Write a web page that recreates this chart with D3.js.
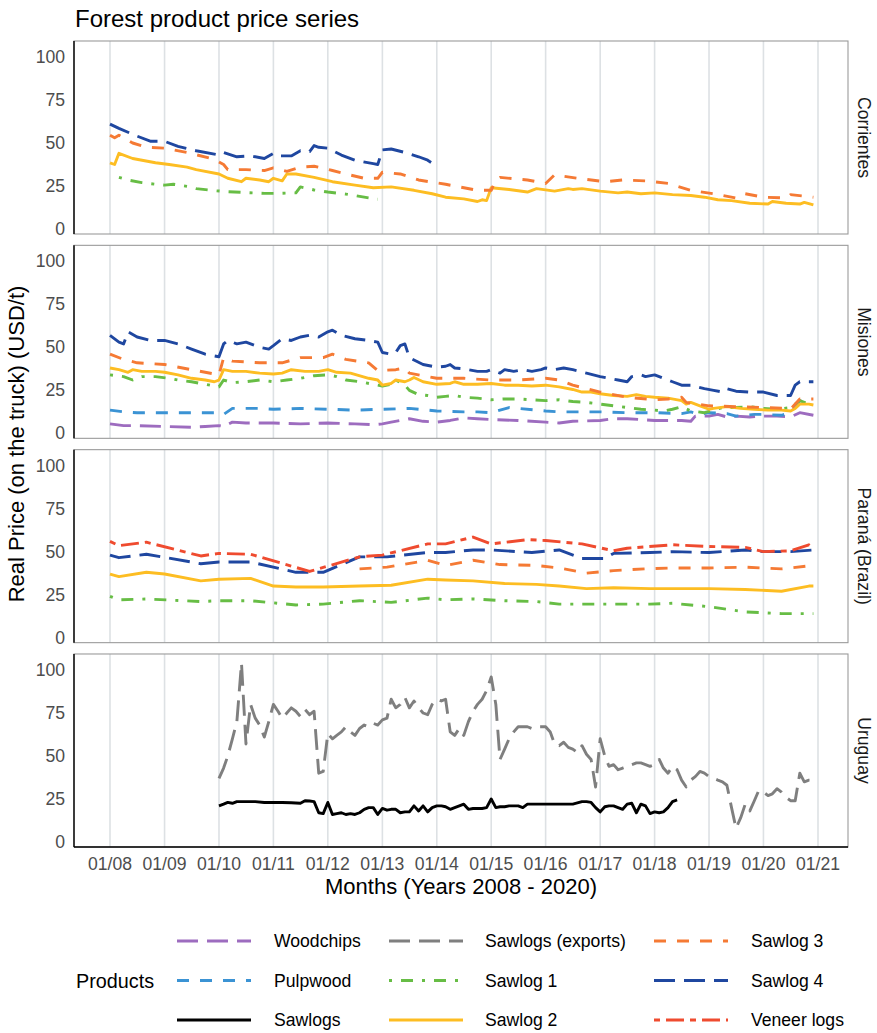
<!DOCTYPE html>
<html><head><meta charset="utf-8">
<script src="https://cdn.jsdelivr.net/npm/d3@7"></script>
<style>
body{margin:0;background:#fff}
text{font-family:"Liberation Sans",Arial,Helvetica,sans-serif}
</style>
</head><body>
<svg id="chart" width="877" height="1033"></svg>
<script>
// ---------------- DATA ----------------
const panels = ["Corrientes", "Misiones", "Paraná (Brazil)", "Uruguay"];
const products = ["Woodchips", "Pulpwood", "Sawlogs", "Sawlogs (exports)", "Sawlog 1", "Sawlog 2", "Sawlog 3", "Sawlog 4", "Veneer logs"];
const yTicks = [0, 25, 50, 75, 100];
const xTickYears = [2008, 2009, 2010, 2011, 2012, 2013, 2014, 2015, 2016, 2017, 2018, 2019, 2020, 2021];
const titleText = "Forest product price series";
const xTitle = "Months (Years 2008 - 2020)";
const yTitle = "Real Price (on the truck) (USD/t)";
const legendTitle = "Products";

// each point: [months since Jan 2008, real price USD/t]
const corrientesSawlog1 = [[2,30],[4,28.5],[7,27],[10,26],[12,25.5],[14,26],[17,24.8],[19,23.5],[23,22.3],[26,21.7],[30,21.2],[34,20.7],[37,20.7],[40,21],[41,21],[42,24.5],[45,22.7],[48,21.5],[52,20.3],[56,18.5],[59,17.3]];
const corrientesSawlog2 = [[0,38.5],[1,37.5],[2,44],[5,41],[10,38.5],[13,37.5],[17,36],[19,34.5],[24,32],[26,29.5],[29,27.5],[30,29.5],[33,28.5],[35,27.5],[36,29.5],[38,28],[39,32],[41,32],[45,30],[49,27.5],[54,25.5],[58,24],[62,24.5],[67,22.5],[71,20.5],[74,18.5],[78,17.5],[81,16],[82,17],[83,16.5],[84,24],[88,23],[92,21.5],[94,23.5],[98,22],[101,23.5],[102,23],[104,23.5],[108,22],[112,21],[114,21.5],[117,20.5],[120,21],[124,20],[128,19.5],[131,18.5],[134,17],[137,16.5],[141,15],[145,14.5],[146,16],[149,15],[152,14.5],[153,15.5],[155,14]];
const corrientesSawlog3 = [[0,54.5],[1,53],[2,54.5],[5,50],[8,47.5],[12,47],[17,44.5],[23,40.5],[25,37.5],[26,34.5],[30,34.5],[34,34],[36,35.5],[39,33.5],[42,36],[45,36.5],[49,34],[52,32],[56,29.5],[59,29.5],[60,33],[64,32],[68,28.5],[74,26],[81,22.5],[84,22.5],[85,28.5],[86,30],[92,28.5],[96,26.5],[98,31.5],[103,29.5],[109,27.5],[113,28.5],[118,28],[123,26.5],[128,22.5],[133,20.5],[138,18],[140,20.5],[144,18.5],[149,18],[150,20],[155,18.5]];
const corrientesSawlog4 = [[0,61],[2,58.5],[6,54],[9,51],[12,51],[15,48],[19,45.5],[24,43],[25,44.5],[28,42],[31,42.5],[34,41],[36,44],[37,42.5],[40,42.5],[42,45.5],[44,45],[45,48.5],[46,47.5],[48,47],[51,43],[54,40],[58,38],[59,37.5],[60,46],[62,46.5],[65,44.5],[68,42],[70,40],[72,36.5]];

const misionesWoodchips = [[0,5.5],[3,4.5],[6,4.5],[12,4],[18,3.5],[21,4],[24,4.5],[25,4],[27,6.5],[30,6],[36,6],[42,5.5],[48,6],[54,5.5],[58,5],[60,5.5],[62,6.5],[66,8.5],[69,7],[72,6.5],[75,7.5],[78,9],[81,8.5],[84,8],[90,7.5],[96,6.5],[99,6],[102,7],[108,7.5],[111,8.5],[114,8.5],[117,8],[120,7.5],[126,7.5],[128,7],[129,10],[132,10],[134,11],[136,9.5],[138,10],[141,9.5],[144,10],[147,10],[150,9.5],[152,12],[155,10.5]];
const misionesPulpwood = [[0,13.5],[3,12.5],[6,12],[12,12],[18,12],[24,12],[25,11],[27,14.5],[33,14.5],[36,14],[42,14.5],[48,14],[54,13.5],[60,14],[66,14.5],[72,13],[78,12.5],[81,12.5],[84,12],[86,13.5],[88,15],[90,14.5],[96,13],[99,12.5],[102,12.5],[108,12.5],[114,12],[120,12],[126,11.5],[128,12.5],[130,11],[132,12],[136,11.5],[138,10],[142,11],[144,11],[148,10.5],[150,12],[152,19],[153,18]];
const misionesSawlog1 = [[0,34],[3,33],[5,31],[7,33],[10,33],[13,32],[15,31],[18,30],[21,28.5],[24,27],[25,31],[27,29.5],[30,30],[33,31],[36,30],[39,31],[42,32],[45,33.5],[48,34],[50,33],[52,31],[55,30],[58,28.5],[60,27.5],[62,28.5],[63,31],[65,28],[66,25],[68,22.5],[70,22],[72,21],[74,21.5],[76,22],[78,21],[81,20.5],[84,19.5],[87,20],[90,20],[93,19.5],[96,19],[99,19.5],[102,18.5],[105,18],[108,17],[111,16],[114,15],[117,14],[120,13.5],[122,13],[124,14],[126,15.5],[128,13],[131,12],[133,13.5],[135,15],[138,15],[141,15.5],[144,14.5],[147,14],[150,15],[152,19],[154,17]];
const misionesSawlog2 = [[0,38],[2,37],[4,35.5],[5,37],[7,36],[10,36],[12,35.5],[15,34],[18,32],[21,31],[23,30],[24,31],[25,37],[27,36],[30,36],[33,35],[36,34.5],[38,35],[40,37],[43,36],[46,36],[48,37],[50,35.5],[53,35],[57,32],[59,31],[60,28],[62,29],[63,31],[65,30],[66,31],[67,32.5],[69,30],[72,28.5],[75,29],[76,30],[78,28.5],[81,28.5],[84,29],[87,28],[90,28],[93,27.5],[96,28],[99,27],[102,25.5],[104,24],[106,24],[108,23],[111,22],[114,21.5],[116,22.5],[118,21.5],[120,21],[123,20.5],[126,19],[127,17],[128,18],[130,16],[132,14],[133,14.5],[136,15.5],[139,14.5],[142,14],[145,13.5],[148,13.5],[150,13],[151,14.5],[152,17],[154,17],[155,16.5]];
const misionesSawlog3 = [[0,46],[3,43],[6,41],[12,40],[18,37],[23,34.5],[24,34],[25,44],[27,42],[33,41],[38,41],[42,44],[47,44],[49,46],[52,43],[57,41],[59,36.5],[63,37],[65,38],[66,35],[72,32],[78,32],[84,31],[90,31],[96,32],[99,31],[102,28],[108,24],[114,21],[120,19.5],[123,20],[126,21],[127,18],[132,16],[138,15.5],[144,15],[149,14.5],[150,14],[152,20],[155,20]];
const misionesSawlog4 = [[0,57],[2,53],[3,52],[4,59],[6,56],[9,54],[12,54],[15,52],[18,49],[21,46],[23,45],[24,44.5],[25,52],[26,54],[28,52],[30,53],[33,50],[35,49],[36,51],[38,55],[40,54],[42,56],[44,57],[46,56],[48,59],[49,60],[51,57],[54,55],[57,54],[59,53],[60,47],[62,46],[63,47],[64,51],[65,52],[66,44],[69,40],[72,38.5],[74,39],[75,40],[76,38],[78,37.5],[81,36],[83,36],[84,37],[86,35],[87,37],[89,36],[91,37],[93,36],[95,37],[96,38],[98,37],[100,38],[102,37],[105,35],[108,33],[110,32],[112,31],[114,30],[115,33],[117,34],[118,33],[120,34],[122,32],[124,30],[126,28],[128,28],[131,26],[133,25],[135,24],[136,26],[138,24.5],[141,24],[144,24],[147,22],[150,22],[151,28],[152,30],[155,30]];

const paranaSawlog1 = [[0,24],[2,22],[8,22.5],[20,21],[24,21.5],[31,21.5],[41,19],[47,19.5],[55,21.5],[62,20.5],[70,23],[74,22],[80,22.5],[87,21.5],[94,21],[99,19.5],[111,19.5],[119,19.5],[124,20],[132,18],[140,15],[148,14],[155,14]];
const paranaSawlog2 = [[0,37],[2,35.5],[8,38],[12,37],[20,33],[24,34],[31,34.5],[36,30],[41,29.5],[47,29.5],[55,30],[62,30.5],[70,34],[74,33.5],[80,33],[87,31.5],[94,31],[99,30],[105,28.5],[111,29],[119,28.5],[124,28.5],[132,28.5],[140,28],[148,27],[154,30],[155,30]];
const paranaSawlog3 = [[55,40],[61,41],[70,45],[74,42],[80,45],[86,42.5],[94,42],[99,40.5],[105,37.5],[111,39],[118,40],[124,40.5],[132,40.5],[140,41],[148,40],[155,42]];
const paranaSawlog4 = [[0,48],[2,46.5],[8,48.5],[20,43],[24,44],[31,44],[41,38],[47,38],[55,47],[61,47],[70,49.5],[74,49.5],[80,51],[84,51],[93,49.5],[99,51],[104,46],[109,46],[111,49],[119,49.5],[124,50],[132,49.5],[140,51],[144,50],[150,50],[155,51]];
const paranaVeneer = [[0,56],[2,53.5],[8,55.5],[20,47.5],[24,49],[31,48.5],[44,38.5],[55,47],[60,48],[70,54.5],[74,54.5],[80,58.5],[84,54.5],[92,57],[96,56.5],[104,54.5],[111,50.5],[114,52],[124,54],[132,53],[140,52.5],[144,50],[150,50.5],[154,54],[155,52]];

const uruguaySawlogs = [[24,21],[25,22],[26,23],[27,22.5],[28,23.5],[29,23.5],[30,23.5],[32,23.5],[34,23],[36,23],[38,23],[40,22.8],[42,22.5],[43,24],[44,23.8],[45,23.5],[46,17],[47,16.5],[48,23],[49,16],[50,16.5],[51,17],[52,16],[53,16.5],[54,16],[55,17],[56,19],[57,20],[58,20],[59,16],[60,19.5],[61,18.5],[62,19],[63,19],[64,17],[65,17.5],[66,17.5],[67,21],[68,18],[69,21],[70,17.5],[71,20],[72,21],[73,21],[74,20.5],[75,19],[76,20],[77,21],[78,22],[79,19],[80,19.5],[81,19.5],[82,19.5],[83,20],[84,25],[85,20],[86,20.5],[87,20.5],[88,21],[89,21],[90,21],[91,20],[92,22],[94,22],[96,22],[98,22],[100,22],[102,22],[104,23.5],[105,23.5],[106,23],[107,20],[108,17.5],[109,20.5],[110,21],[111,21],[112,20],[113,19],[114,22],[115,22.5],[116,17],[117,22],[118,21],[119,16.5],[120,17.5],[121,17],[122,17.5],[123,20],[124,23.5],[125,24.5]];
const uruguayExports = [[24,37],[25,43],[26,50],[27,60],[28,70],[29,104],[30,57],[31,80],[32,72],[33,68],[34,61],[35,70],[36,80],[37,76],[38,72],[39,75],[40,78],[41,76],[42,73],[43,77],[44,74],[45,76],[46,40],[47,41],[48,63],[49,60],[50,62],[51,64],[52,67],[53,64],[54,62],[55,66],[56,68],[57,67],[58,69],[59,68],[60,71],[61,72],[62,83],[63,78],[64,80],[65,84],[66,78],[67,82],[68,78],[69,75],[70,74],[71,80],[72,83],[73,82],[74,83],[75,64],[76,62],[77,66],[78,62],[79,70],[80,76],[81,80],[82,83],[83,88],[84,96],[85,80],[86,48],[87,54],[88,60],[89,64],[90,67],[91,67],[92,67],[93,66],[94,67],[95,67],[96,67],[97,64],[98,57],[99,56],[100,58],[101,55],[102,54],[103,52],[104,56],[105,51],[106,48],[107,32],[108,60],[109,50],[110,44],[111,45],[112,42],[113,43],[114,44],[115,45],[116,46],[117,46],[118,45],[119,44],[120,45],[121,48],[122,43],[123,40],[124,44],[125,42],[126,36],[127,32],[128,36],[129,38],[130,41],[131,40],[132,38],[133,37],[134,36],[135,35],[136,33],[137,20],[138,8],[139,14],[140,22],[141,18],[142,24],[143,30],[144,29],[145,27],[146,28],[147,31],[148,29],[149,26],[150,24],[151,24],[152,40],[153,35],[154,36],[155,36]];

// table built from the arrays above
const seriesTable = [
  {panel: "Corrientes", product: "Sawlog 1", values: corrientesSawlog1},
  {panel: "Corrientes", product: "Sawlog 2", values: corrientesSawlog2},
  {panel: "Corrientes", product: "Sawlog 3", values: corrientesSawlog3},
  {panel: "Corrientes", product: "Sawlog 4", values: corrientesSawlog4},
  {panel: "Misiones", product: "Woodchips", values: misionesWoodchips},
  {panel: "Misiones", product: "Pulpwood", values: misionesPulpwood},
  {panel: "Misiones", product: "Sawlog 1", values: misionesSawlog1},
  {panel: "Misiones", product: "Sawlog 2", values: misionesSawlog2},
  {panel: "Misiones", product: "Sawlog 3", values: misionesSawlog3},
  {panel: "Misiones", product: "Sawlog 4", values: misionesSawlog4},
  {panel: "Paraná (Brazil)", product: "Sawlog 1", values: paranaSawlog1},
  {panel: "Paraná (Brazil)", product: "Sawlog 2", values: paranaSawlog2},
  {panel: "Paraná (Brazil)", product: "Sawlog 3", values: paranaSawlog3},
  {panel: "Paraná (Brazil)", product: "Sawlog 4", values: paranaSawlog4},
  {panel: "Paraná (Brazil)", product: "Veneer logs", values: paranaVeneer},
  {panel: "Uruguay", product: "Sawlogs", values: uruguaySawlogs},
  {panel: "Uruguay", product: "Sawlogs (exports)", values: uruguayExports}
];

// ---------------- STYLES ----------------
const colorOf = {
  "Woodchips": "#9d6cbf", "Pulpwood": "#3b93d4", "Sawlogs": "#000000",
  "Sawlogs (exports)": "#7f7f7f", "Sawlog 1": "#67bd45", "Sawlog 2": "#fdbd22",
  "Sawlog 3": "#f57a34", "Sawlog 4": "#1f47a0", "Veneer logs": "#ef4b2f"
};
const LW = 2.9;
const dashOf = {
  "Woodchips": "21 9", "Pulpwood": "12 11", "Sawlogs": null,
  "Sawlogs (exports)": "21 9", "Sawlog 1": "3 9 12 9", "Sawlog 2": null,
  "Sawlog 3": "12 11", "Sawlog 4": "21 9", "Veneer logs": "6 6 18 6"
};

// ---------------- LAYOUT ----------------
const svg = d3.select("#chart");
const left = 74, right = 848;
const panelTop0 = 41, panelPitch = 204.33, panelH = 193;

const x = d3.scaleTime()
  .domain([new Date(2008, 0, 1), new Date(2021, 0, 1)])
  .range([110, 818]);
const monthDate = m => new Date(2008, m, 1);
const fmt = d3.timeFormat("%m/%y");
const tickDates = xTickYears.map(y => new Date(y, 0, 1));

svg.append("rect").attr("width", 877).attr("height", 1033).attr("fill", "#fff");

// title
svg.append("text").attr("x", 75).attr("y", 27)
  .attr("font-size", 24).attr("fill", "#000").text(titleText);

panels.forEach((p, i) => {
  const top = panelTop0 + i * panelPitch;
  const y = d3.scaleLinear().domain([-2.9, 109.3]).range([top + panelH, top]);
  const g = svg.append("g");

  // vertical gridlines
  g.selectAll("line.grid").data(tickDates).enter().append("line")
    .attr("x1", d => x(d)).attr("x2", d => x(d))
    .attr("y1", top).attr("y2", top + panelH)
    .attr("stroke", "#dde1e4").attr("stroke-width", 1.6);

  // lines
  const line = d3.line().x(d => x(monthDate(d[0]))).y(d => y(d[1]));
  const rows = seriesTable.filter(s => s.panel === p)
    .sort((a, b) => products.indexOf(a.product) - products.indexOf(b.product));
  rows.forEach(s => {
    g.append("path").datum(s.values)
      .attr("d", line)
      .attr("fill", "none")
      .attr("stroke", colorOf[s.product])
      .attr("stroke-width", LW)
      .attr("stroke-linejoin", "round")
      .attr("stroke-linecap", "butt")
      .attr("stroke-dasharray", dashOf[s.product]);
  });

  // panel border
  g.append("rect").attr("x", left).attr("y", top)
    .attr("width", right - left).attr("height", panelH)
    .attr("fill", "none").attr("stroke", "#9b9b9b").attr("stroke-width", 1.1);
  // left axis line
  g.append("line").attr("x1", left).attr("x2", left)
    .attr("y1", top).attr("y2", top + panelH)
    .attr("stroke", "#000").attr("stroke-width", 1.4);
  if (i === panels.length - 1) {
    g.append("line").attr("x1", left).attr("x2", right)
      .attr("y1", top + panelH).attr("y2", top + panelH)
      .attr("stroke", "#000").attr("stroke-width", 1.4);
  }

  // y tick labels
  g.selectAll("text.yt").data(yTicks).enter().append("text")
    .attr("x", 65).attr("y", d => y(d))
    .attr("text-anchor", "end").attr("dominant-baseline", "central")
    .attr("font-size", 17.6).attr("fill", "#4d4d4d")
    .text(d => d);

  // strip label
  g.append("text")
    .attr("transform", `translate(864,${top + panelH / 2}) rotate(90)`)
    .attr("text-anchor", "middle").attr("dominant-baseline", "central")
    .attr("font-size", 17.6).attr("fill", "#1a1a1a").text(p);

  // x tick labels on bottom panel
  if (i === panels.length - 1) {
    g.selectAll("text.xt").data(tickDates).enter().append("text")
      .attr("x", d => x(d)).attr("y", top + panelH + 23)
      .attr("text-anchor", "middle")
      .attr("font-size", 17.6).attr("fill", "#4d4d4d")
      .text(d => fmt(d));
  }
});

// axis titles
svg.append("text").attr("x", (left + right) / 2).attr("y", 894)
  .attr("text-anchor", "middle").attr("font-size", 22).attr("fill", "#000").text(xTitle);
svg.append("text")
  .attr("transform", `translate(24,${(panelTop0 + panelTop0 + 3 * panelPitch + panelH) / 2}) rotate(-90)`)
  .attr("text-anchor", "middle").attr("font-size", 22).attr("fill", "#000").text(yTitle);

// legend
svg.append("text").attr("x", 76).attr("y", 981)
  .attr("dominant-baseline", "central").attr("font-size", 19.8).attr("fill", "#000").text(legendTitle);
const colKeyX = [177, 389, 654];
const colTextX = [274, 485, 751];
const rowY = [941, 980.5, 1020];
products.forEach((prod, k) => {
  const col = Math.floor(k / 3), row = k % 3;
  svg.append("line")
    .attr("x1", colKeyX[col]).attr("x2", colKeyX[col] + 74)
    .attr("y1", rowY[row]).attr("y2", rowY[row])
    .attr("stroke", colorOf[prod]).attr("stroke-width", LW)
    .attr("stroke-dasharray", dashOf[prod]);
  svg.append("text").attr("x", colTextX[col]).attr("y", rowY[row])
    .attr("dominant-baseline", "central").attr("font-size", 17.6).attr("fill", "#000")
    .text(prod);
});
</script>
</body></html>
